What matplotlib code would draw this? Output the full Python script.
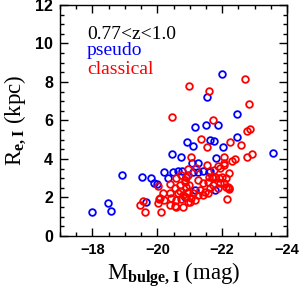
import matplotlib
matplotlib.use("Agg")
import matplotlib.pyplot as plt
from matplotlib.ticker import MultipleLocator

# pseudo bulges: absolute magnitude (I band) and effective radius (kpc)
pseudo_mag = [-21.98, -21.53, -22.45, -21.49, -21.87, -21.17, -22.45, -21.61, -21.74,
              -20.91, -21.11, -22.02, -20.46, -20.72, -21.82, -23.56, -21.08, -21.25,
              -21.10, -21.25, -21.40, -21.61, -20.22, -20.48, -20.63, -20.77, -18.92,
              -19.54, -19.80, -19.91, -20.00, -18.47, -18.56, -17.98, -19.66, -20.33,
              -20.89, -21.15, -21.78, -20.85, -21.58]
pseudo_re = [8.42, 7.20, 6.32, 5.75, 5.75, 5.65, 5.14, 4.97, 4.94,
             4.87, 4.69, 4.62, 4.24, 4.12, 4.04, 4.33, 3.81, 3.81,
             3.31, 3.31, 3.39, 3.39, 3.34, 3.34, 3.38, 3.38, 3.17,
             3.05, 3.00, 2.74, 2.69, 1.73, 1.30, 1.25, 1.77, 3.00,
             3.08, 2.39, 2.39, 2.03, 3.34]

# classical bulges
classical_mag = [-22.69, -21.59, -22.83, -21.72, -22.87, -22.75, -21.35, -22.25, -22.59,
                 -20.97, -20.45, -21.53, -21.05, -22.04, -22.31, -22.38, -22.75, -22.92,
                 -21.53, -21.86, -21.92, -22.20, -20.03, -19.56, -19.46, -19.62, -20.05,
                 -20.10, -20.56, -22.15, -22.07, -22.12, -22.07, -22.19, -22.22,
                 -21.58, -21.68, -21.79, -21.89, -21.99, -22.12, -22.20, -21.86, -21.71,
                 -20.74, -20.89, -20.58, -20.84, -20.69, -20.89, -20.53, -20.17, -20.38,
                 -20.63, -20.79, -20.94, -20.07, -20.22, -20.43, -20.58, -20.74, -20.02,
                 -20.38, -20.58, -20.79,
                 -21.76, -22.07, -20.94, -20.84, -20.99, -21.25, -21.40, -21.56, -21.71,
                 -21.92, -20.94, -21.10, -21.30, -21.46, -21.61, -20.89, -21.05, -21.25,
                 -21.40, -21.56, -20.94, -21.15, -21.20, -20.95, -20.40, -20.70, -21.00]
classical_re = [8.14, 7.53, 6.87, 6.03, 5.57, 5.47, 5.02, 4.87, 4.73,
                7.79, 6.20, 4.60, 4.12, 4.12, 3.91, 3.98, 4.09, 4.24,
                3.67, 3.64, 3.52, 3.26, 2.61, 1.84, 1.59, 1.25, 1.94,
                1.23, 1.56, 1.90, 3.78, 3.00, 2.74, 2.53, 2.43,
                3.08, 3.08, 3.08, 3.00, 3.08, 2.53, 2.48, 2.48, 2.65,
                3.17, 3.08, 3.00, 2.82, 2.65, 2.56, 2.48, 2.22, 2.22,
                2.22, 2.13, 2.22, 1.96, 1.87, 1.96, 1.87, 1.91, 1.70,
                1.61, 1.52, 1.52,
                3.43, 3.69, 3.17, 2.91, 2.65, 2.91, 2.74, 2.82, 3.00,
                2.74, 2.30, 2.22, 2.39, 2.30, 2.48, 2.04, 1.96, 2.13,
                2.13, 2.22, 1.78, 1.87, 3.55, 3.50, 2.70, 2.35, 1.75]

plt.rcParams["mathtext.fontset"] = "custom"
plt.rcParams["mathtext.rm"] = "Liberation Serif"
plt.rcParams["mathtext.bf"] = "Liberation Serif:bold"

fig = plt.figure(figsize=(3.0, 2.92), dpi=100)
ax = fig.add_axes([0.2, 0.192, 0.757, 0.791])

ax.plot(pseudo_mag, pseudo_re, "o", mfc="none", mec="#0000ff", ms=4.8, mew=1.3)
ax.plot(classical_mag, classical_re, "o", mfc="none", mec="#ff0000", ms=4.8, mew=1.3)

ax.set_xlim(-17, -24)
ax.set_ylim(0, 12)
ax.xaxis.set_major_locator(MultipleLocator(2))
ax.xaxis.set_minor_locator(MultipleLocator(0.5))
ax.yaxis.set_major_locator(MultipleLocator(2))
ax.yaxis.set_minor_locator(MultipleLocator(0.5))
ax.tick_params(which="both", direction="in", top=True, right=True, width=1.0)
ax.tick_params(which="major", length=6, pad=5)
ax.tick_params(which="minor", length=3)
for s in ax.spines.values():
    s.set_linewidth(1.0)

ax.set_yticks(range(0, 13, 2))
ax.set_yticklabels([str(v) for v in range(0, 13, 2)],
                   family="Liberation Sans", fontweight="bold", fontsize=11.5)
ax.set_xticklabels(["\u2212" + str(int(-v)) for v in ax.get_xticks()],
                   family="Liberation Sans", fontweight="bold", fontsize=10.5)

ax.set_xlabel(r"M$_{\mathbf{bulge,I}}$ (mag)", family="Liberation Serif", fontsize=16.5, labelpad=3)
ax.set_ylabel(r"R$_{\mathbf{e,I}}$ (kpc)", family="Liberation Serif", fontsize=16.5, labelpad=5)

ax.text(0.119, 0.853, "0.77<z<1.0", transform=ax.transAxes, family="Liberation Serif",
        fontsize=14, color="black")
ax.text(0.119, 0.784, "pseudo", transform=ax.transAxes, family="Liberation Serif",
        fontsize=14, color="#0000ff")
ax.text(0.119, 0.70, "classical", transform=ax.transAxes, family="Liberation Serif",
        fontsize=14, color="#ff0000")

fig.savefig("out.png", dpi=100)
